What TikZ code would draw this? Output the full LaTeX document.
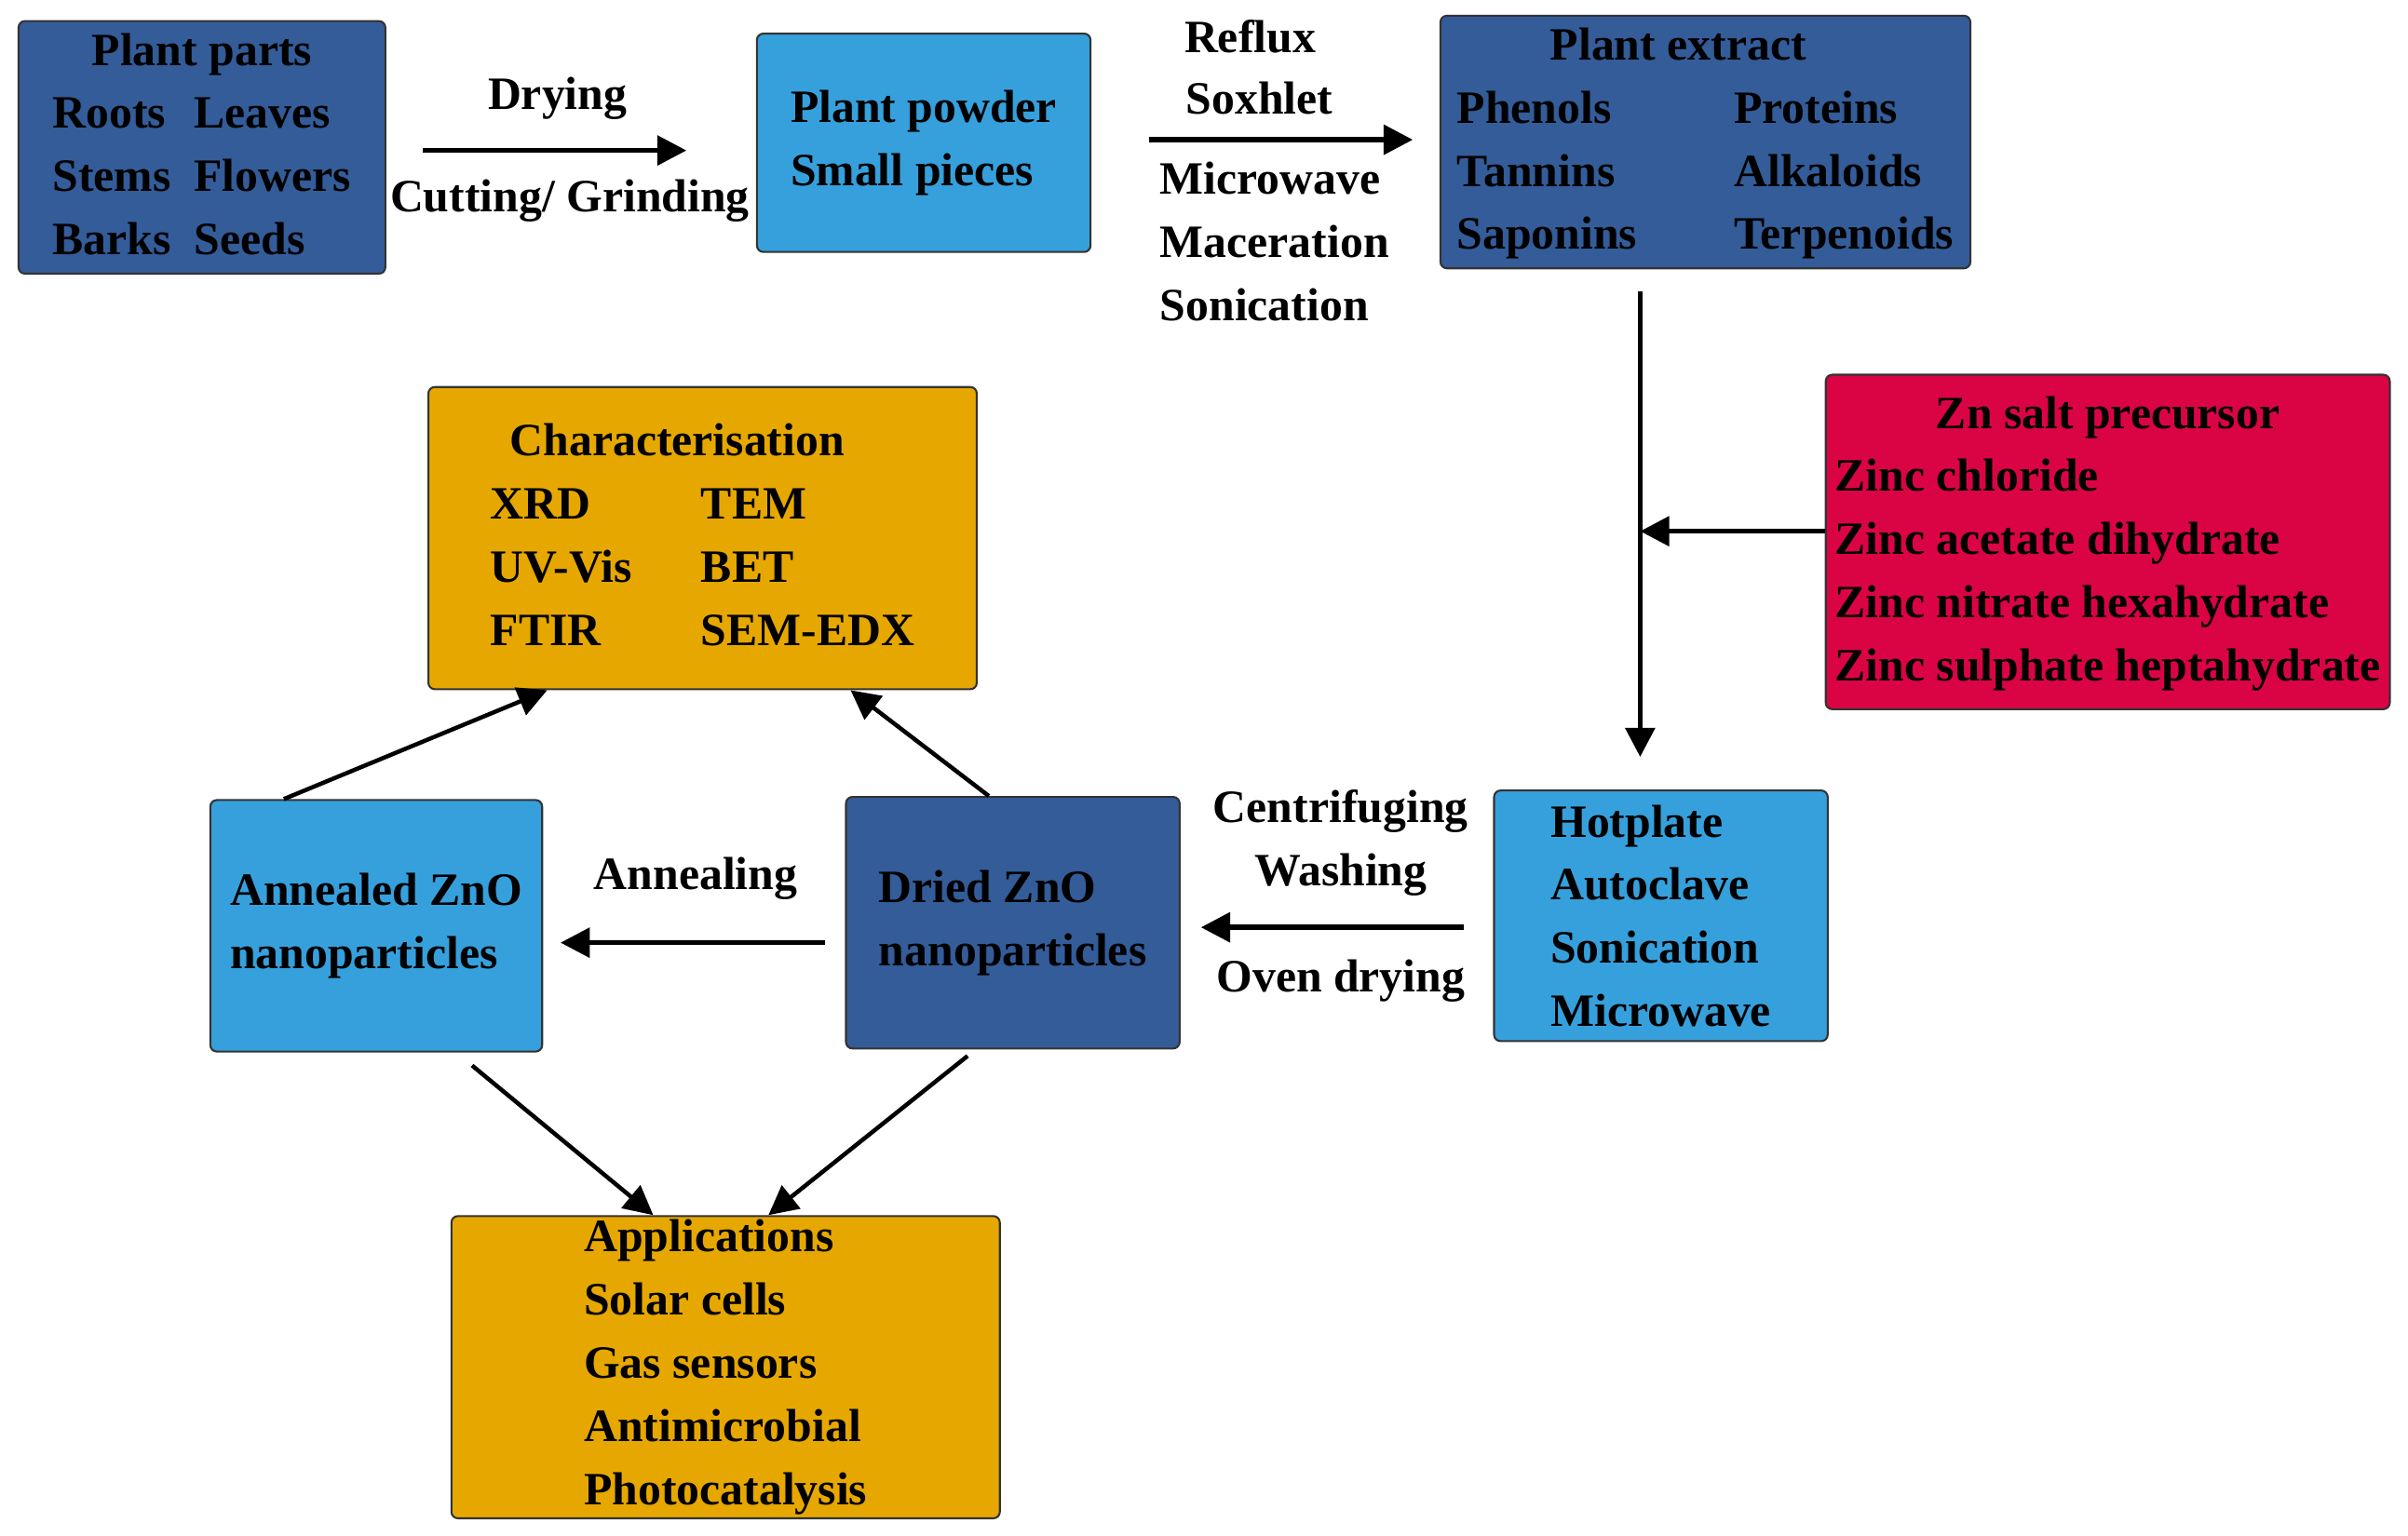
\documentclass[tikz,border=0pt]{standalone}
\usepackage{fontspec}
\setmainfont{Liberation Serif}
\usetikzlibrary{arrows.meta,positioning}
\definecolor{darkblue}{HTML}{335C99}
\definecolor{lightblue}{HTML}{36A0DC}
\definecolor{zincred}{HTML}{DA0444}
\definecolor{gold}{HTML}{E6A800}
\tikzset{
  box/.style={draw=black!80, line width=0.6pt, rounded corners=2pt, inner sep=0pt, align=left,
    font=\bfseries\fontsize{14.3}{19.5}\selectfont},
  flow/.style={-{Triangle[length=9pt,width=9pt]}, line width=1.6pt},
  lbl/.style={font=\bfseries\fontsize{14.3}{19.5}\selectfont, inner sep=0pt, align=left}
}
\newcommand{\twocol}[2]{\begin{tabular}{@{}l@{\hspace{#1}}l@{}}#2\end{tabular}}
\begin{document}
\begin{tikzpicture}[x=0.016667cm, y=-0.016667cm]
\useasboundingbox (0,0) rectangle (1568,1000);

% --- top row ---
\node[box, fill=darkblue, minimum width=3.98cm, minimum height=2.73cm] (parts) at (131.5,96)
  {\twocol{0.25cm}{\multicolumn{2}{c}{Plant parts}\\ Roots & Leaves\\ Stems & Flowers\\ Barks & Seeds}};
\node[box, fill=lightblue, minimum width=3.62cm, minimum height=2.37cm] (powder) at (601.5,93)
  {Plant powder\\ Small pieces};
\node[box, fill=darkblue, minimum width=5.75cm, minimum height=2.72cm] (extract) at (1110.5,92.5)
  {\twocol{1.05cm}{\multicolumn{2}{l}{\hspace{0.8cm}Plant extract}\\ Phenols & Proteins\\ Tannins & Alkaloids\\ Saponins & Terpenoids}};

% --- right side ---
\node[box, fill=zincred, minimum width=6.12cm, minimum height=3.63cm] (zinc) at (1372.5,353)
  {\twocol{0pt}{\multicolumn{1}{c}{Zn salt precursor}\\ Zinc chloride\\ Zinc acetate dihydrate\\ Zinc nitrate hexahydrate\\ Zinc sulphate heptahydrate}};
\node[box, fill=lightblue, minimum width=3.62cm, minimum height=2.72cm] (heat) at (1081.5,596.5)
  {Hotplate\\ Autoclave\\ Sonication\\ Microwave};

% --- middle row ---
\node[box, fill=darkblue, minimum width=3.62cm, minimum height=2.73cm] (dried) at (659.5,601)
  {Dried ZnO\\ nanoparticles};
\node[box, fill=lightblue, minimum width=3.6cm, minimum height=2.73cm] (annealed) at (245,603)
  {Annealed ZnO\\ nanoparticles};
\node[box, fill=gold, minimum width=5.95cm, minimum height=3.28cm] (charac) at (457.5,350.5)
  {\twocol{0.75cm}{\multicolumn{2}{l}{Characterisation}\\ XRD & TEM\\ UV-Vis & BET\\ FTIR & SEM-EDX}};
\node[box, fill=gold, minimum width=5.95cm, minimum height=3.28cm] (apps) at (472.5,890.5)
  {Applications\\ Solar cells\\ Gas sensors\\ Antimicrobial\\ Photocatalysis};

% arrow end points
\coordinate (dryA) at (275,98);  \coordinate (dryB) at (447,98);
\coordinate (refA) at (748,91);  \coordinate (refB) at (920,91);
\coordinate (downA) at (1068,190); \coordinate (downB) at (1068,493);
\coordinate (join) at (1068,346);
\coordinate (cenA) at (953,604); \coordinate (cenB) at (782,604);
\coordinate (annA) at (537,614); \coordinate (annB) at (365,614);

% connectors
\draw[flow] (dryA) -- (dryB);
\draw[flow] (refA) -- (refB);
\draw[flow] (downA) -- (downB);
\draw[flow] (zinc.west |- join) -- (join);
\draw[flow] (cenA) -- (cenB);
\draw[flow] (annA) -- (annB);
\draw[flow, line width=1.3pt] ([xshift=23pt]annealed.north west) -- ([xshift=1.3cm]charac.south west);
\draw[flow, line width=1.3pt] ([xshift=1.56cm]dried.north west) -- ([xshift=-1.38cm]charac.south east);
\draw[flow, line width=1.3pt] ([xshift=2.85cm,yshift=-4pt]annealed.south west) -- ([xshift=2.2cm]apps.north west);
\draw[flow, line width=1.3pt] ([xshift=1.33cm,yshift=-2pt]dried.south west) -- ([xshift=3.45cm]apps.north west);

% step labels
\node[lbl] (drying) at (363,64) {Drying};
\node[lbl] (cutting) at (371,131) {Cutting/ Grinding};
\node[lbl] (reflux) at (814,24) {Reflux};
\node[lbl] (soxhlet) at (820,64) {Soxhlet};
\node[lbl, anchor=north west] (extr) at (755,105) {Microwave\\ Maceration\\ Sonication};
\node[lbl, align=center] (centri) at (873,549) {Centrifuging\\ Washing};
\node[lbl] (oven) at (873,639) {Oven drying};
\node[lbl] (anneal) at (453,572) {Annealing};
\end{tikzpicture}
\end{document}
